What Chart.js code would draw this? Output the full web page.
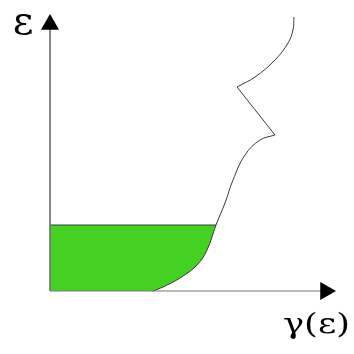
<!DOCTYPE html>
<html>
<head>
<meta charset="utf-8">
<script src="https://cdn.jsdelivr.net/npm/chart.js@4/dist/chart.umd.min.js"></script>
<style>
  html, body { margin: 0; padding: 0; background: #fff; }
  canvas { display: block; }
</style>
</head>
<body>
<canvas id="myChart" width="354" height="354"></canvas>
<script>
// lower smooth branch of the curve, from the x axis up to the first corner
const riseX = [10.3, 11.3, 13.0, 14.7, 15.7, 16.6, 17.5, 18.3, 19.5, 21.0, 22.5];
const riseY = [0.0, 0.4, 1.3, 2.6, 4.1, 6.6, 8.8, 11.1, 13.6, 15.1, 15.6];

// straight step back between the two corners
const kinkX = [22.5, 18.7];
const kinkY = [15.6, 20.4];

// upper branch, ending vertically
const topX = [18.7, 20.5, 22.5, 23.8, 24.3, 24.4];
const topY = [20.4, 21.4, 23.1, 24.8, 26.1, 27.4];

// shaded level
const level = 6.6;
const levelEnd = 16.6;

// axis ends (arrow heads)
const axisEndX = 27.55;
const axisEndY = 26.65;

const xAxisLabel = 'γ(ε)';
const yAxisLabel = 'ε';

const toPoints = (xs, ys) => xs.map((x, i) => ({ x: x, y: ys[i] }));

const lineColor = '#3a3a3a';
const axisColor = '#777777';
const green = '#44d124';
const labelFont = '"DejaVu Serif", "Liberation Serif", serif';

// draws text right-aligned at (x, y), stretched to the given width
function stretchedText(c, text, x, y, width) {
    const w = c.measureText(text).width;
    c.save();
    c.translate(x, y);
    c.scale(width / w, 1);
    c.textAlign = 'right';
    c.fillText(text, 0, 0);
    c.restore();
}

const labels = {
    id: 'axisLabels',
    afterDraw(chart) {
        const c = chart.ctx;
        const xs = chart.scales.x;
        const ys = chart.scales.y;
        c.save();
        c.fillStyle = '#000';
        c.textBaseline = 'alphabetic';
        c.font = '40px ' + labelFont;
        c.textAlign = 'center';
        c.fillText(yAxisLabel, xs.getPixelForValue(0) - 27, ys.getPixelForValue(axisEndY) + 9);
        c.font = '28px ' + labelFont;
        stretchedText(c, xAxisLabel, xs.getPixelForValue(axisEndX) + 24.5, ys.getPixelForValue(0) + 42, 67);
        c.restore();
    }
};

const config = {
    type: 'scatter',
    data: {
        datasets: [
            {
                // axes drawn on top of everything
                data: [{ x: 0, y: axisEndY }, { x: 0, y: 0 }, { x: axisEndX, y: 0 }],
                showLine: true,
                borderColor: axisColor,
                borderWidth: 1,
                tension: 0,
                pointRadius: [10.5, 0, 10.5],
                pointRotation: [0, 0, 90],
                pointStyle: 'triangle',
                pointBackgroundColor: '#000',
                pointBorderWidth: 0,
                clip: false,
                order: 1
            },
            {
                data: toPoints(kinkX, kinkY),
                showLine: true,
                borderColor: lineColor,
                borderWidth: 1,
                tension: 0,
                pointRadius: 0,
                clip: false,
                order: 2
            },
            {
                data: toPoints(topX, topY),
                showLine: true,
                borderColor: lineColor,
                borderWidth: 1,
                tension: 0.4,
                pointRadius: 0,
                clip: false,
                order: 2
            },
            {
                // white fill under the rising branch cuts the shaded block
                data: toPoints(riseX, riseY),
                showLine: true,
                borderColor: lineColor,
                borderWidth: 1,
                tension: 0.4,
                pointRadius: 0,
                fill: 'origin',
                backgroundColor: '#ffffff',
                clip: false,
                order: 3
            },
            {
                data: [{ x: 0, y: level }, { x: levelEnd, y: level }],
                showLine: true,
                borderColor: lineColor,
                borderWidth: 1,
                tension: 0,
                pointRadius: 0,
                fill: 'origin',
                backgroundColor: green,
                clip: false,
                order: 4
            }
        ]
    },
    options: {
        responsive: false,
        animation: false,
        layout: {
            padding: { left: 50, right: 14, top: 11, bottom: 63 }
        },
        scales: {
            x: { type: 'linear', display: false, min: 0, max: 29 },
            y: { type: 'linear', display: false, min: 0, max: 28 }
        },
        plugins: {
            legend: { display: false },
            tooltip: { enabled: false }
        }
    },
    plugins: [labels]
};

const myChart = new Chart(document.getElementById('myChart'), config);
</script>
</body>
</html>
